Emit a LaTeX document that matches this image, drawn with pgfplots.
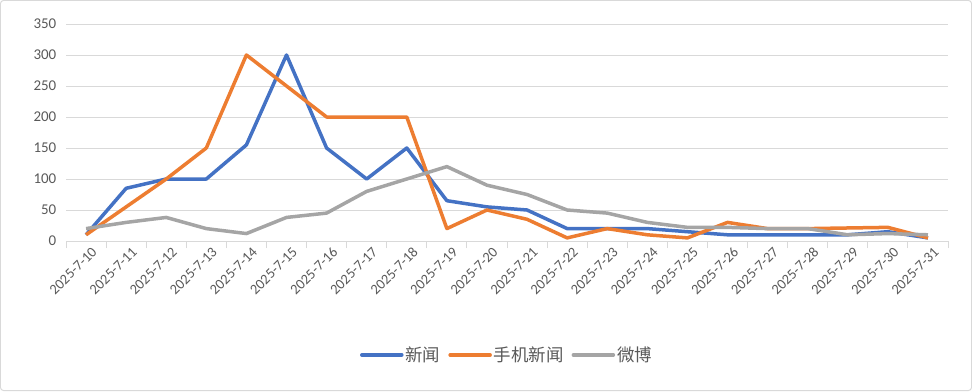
\documentclass[border=0pt]{standalone}
\usepackage{pgfplots}
\pgfplotsset{compat=1.18}
\usepackage{fontspec}
\setmainfont{Carlito}
\newfontfamily\cjk{Noto Sans CJK SC}
\definecolor{cblue}{HTML}{4472C4}
\definecolor{corange}{HTML}{ED7D31}
\definecolor{cgray}{HTML}{A5A5A5}
\definecolor{ctext}{HTML}{595959}
\definecolor{cgrid}{HTML}{D9D9D9}
\begin{document}
\begin{tikzpicture}[x=1bp,y=1bp]
\draw[cgrid, line width=1bp, rounded corners=3bp] (0.5,0.5) rectangle (971.5,390.5);
\begin{axis}[
  at={(66bp,150bp)}, anchor=south west,
  scale only axis, width=882bp, height=217bp,
  xmin=-0.5, xmax=21.5, ymin=0, ymax=350,
  ytick={0,50,...,350},
  xtick={0,...,21},
  xticklabels={2025-7-10,2025-7-11,2025-7-12,2025-7-13,2025-7-14,2025-7-15,2025-7-16,2025-7-17,2025-7-18,2025-7-19,2025-7-20,2025-7-21,2025-7-22,2025-7-23,2025-7-24,2025-7-25,2025-7-26,2025-7-27,2025-7-28,2025-7-29,2025-7-30,2025-7-31},
  minor xtick={-0.5,0.5,...,21.5},
  major x tick style={draw=none},
  minor x tick style={cgrid, line width=1bp},
  tick align=outside,
  minor tick length=7bp,
  x tick label style={rotate=45, anchor=north east, font=\fontsize{14.5}{16}\selectfont, text=ctext, inner sep=1bp, xshift=4bp, yshift=-3bp},
  y tick label style={font=\fontsize{15}{17}\selectfont, text=ctext, xshift=-2bp},
  /pgf/number format/assume math mode=true,
  ymajorgrids, grid style={cgrid, line width=1bp},
  axis y line*=left,
  y axis line style={draw=none},
  axis x line*=bottom,
  x axis line style={cgrid, line width=1bp, -},
  ytick style={draw=none},
  clip=false,
  legend style={at={(0.5,-0.525)}, anchor=center, draw=none, legend columns=-1, font=\cjk\fontsize{17.5}{19}\selectfont, text=ctext, /tikz/every even column/.append style={column sep=6bp}},
  legend image code/.code={\draw[#1, line width=3.5bp, line cap=round] (0bp,0bp) -- (40bp,0bp);},
  every axis plot/.append style={line width=3.5bp, line join=round},
]
\addplot[cblue] coordinates {(0,10)(1,85)(2,100)(3,100)(4,155)(5,300)(6,150)(7,100)(8,150)(9,65)(10,55)(11,50)(12,20)(13,20)(14,20)(15,15)(16,10)(17,10)(18,10)(19,10)(20,15)(21,5)};
\addlegendentry{新闻}
\addplot[corange] coordinates {(0,10)(1,55)(2,100)(3,150)(4,300)(5,250)(6,200)(7,200)(8,200)(9,20)(10,50)(11,35)(12,5)(13,20)(14,10)(15,5)(16,30)(17,20)(18,20)(19,21)(20,22)(21,5)};
\addlegendentry{手机新闻}
\addplot[cgray] coordinates {(0,20)(1,30)(2,38)(3,20)(4,12)(5,38)(6,45)(7,80)(8,100)(9,120)(10,90)(11,75)(12,50)(13,45)(14,30)(15,22)(16,22)(17,20)(18,20)(19,10)(20,12)(21,10)};
\addlegendentry{微博}
\end{axis}
\end{tikzpicture}
\end{document}
